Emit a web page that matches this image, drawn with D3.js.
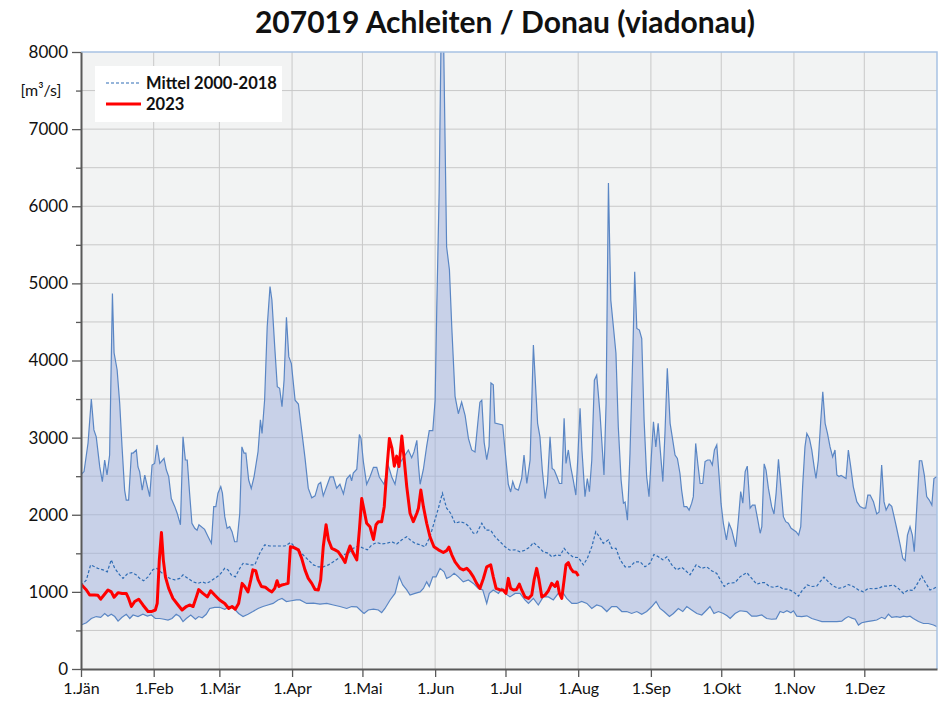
<!DOCTYPE html>
<html>
<head>
<meta charset="utf-8">
<script src="https://cdn.jsdelivr.net/npm/d3@7"></script>
<style>
	body { margin: 0; background: #fff; }
	text { font-family: Lato, "Open Sans", sans-serif; }
</style>
</head>
<body>
<div id="chart"></div>
<script>

// day of year (0 = 1.Jän), discharge in m3/s

const monthDays = [ 0, 31, 59, 90, 120, 151, 181, 212, 243, 273, 304, 334 ];
const monthLabels = [ "1.Jän", "1.Feb", "1.Mär", "1.Apr", "1.Mai", "1.Jun",
	"1.Jul", "1.Aug", "1.Sep", "1.Okt", "1.Nov", "1.Dez" ];

const yMajorTicks = [ 0, 1000, 2000, 3000, 4000, 5000, 6000, 7000, 8000 ];

const seriesNames = [ "Mittel 2000-2018", "2023" ];

// upper envelope (max)
const maxQ = [
	[0,2520],[1.3,2560],[3,2930],[4.4,3500],[5.5,3100],[6.5,3010],[8,2620],[9.1,2430],[10.1,2710],[11.1,2515],
	[12.2,2775],[13.4,4870],[14.1,4100],[15.4,3880],[16.5,3445],[17.5,2880],[18.6,2320],[19.3,2190],[20.3,2190],[21.5,2800],
	[22.2,2800],[23.6,2840],[24.3,2620],[25,2560],[26.1,2320],[27.2,2515],[28.3,2365],[29.3,2235],[30.3,2645],[31.4,2665],
	[32.4,2905],[33.6,2665],[35.4,2730],[36.4,2580],[37.4,2495],[38.5,2210],[40,2105],[41,2020],[42.4,1870],[43.5,3010],
	[44.5,2710],[45.3,2710],[46.3,2280],[47.3,1890],[48.5,1825],[49.5,1800],[50.3,1870],[52.7,1810],[54.2,1715],[55.6,1630],
	[56.6,2105],[57.5,2105],[58.4,2280],[59.6,2365],[60.3,2280],[61.3,1975],[62.3,1825],[63.4,1845],[64.4,1780],[65.5,1650],
	[66.5,1650],[67.7,2020],[68.6,2880],[69.5,2800],[70.3,2800],[71.5,2450],[72.6,2340],[73.8,2495],[75.5,2820],[76.5,3230],
	[77.2,3055],[78.3,3490],[79.4,4440],[80.6,4960],[81.4,4785],[82.6,4180],[83.7,3660],[84.7,3640],[85.7,3400],[86.6,3750],
	[87.6,4560],[88.6,4050],[89.7,3960],[91.3,3485],[92.7,3435],[94.1,3090],[95.5,2740],[96.9,2345],[98.4,2220],[99.8,2245],
	[101.2,2395],[102.2,2420],[103.3,2245],[106.2,2490],[107.6,2490],[109,2345],[110.4,2395],[111.9,2270],[113.3,2465],[114.7,2515],
	[115.4,2440],[116.1,2540],[117.6,2590],[118.7,3040],[119.4,2990],[120.4,2690],[121.8,2395],[123.2,2490],[124.7,2615],[126.1,2615],
	[127.2,2490],[129.2,2395],[131,2640],[132.5,2490],[133.9,2395],[135.3,2640],[137.5,2740],[139.6,2840],[141,2740],[142,2815],
	[143.2,2965],[143.9,2640],[144.6,2395],[146,2590],[147.4,2890],[148.5,3090],[150,3090],[151,3485],[151.7,4680],[152.7,6170],
	[153.7,8600],[154.4,8600],[155.9,5475],[157.1,5175],[158.1,4430],[159.5,3535],[160.9,3310],[162.3,3460],[163.8,3285],[165.2,2990],
	[166.6,2840],[168,2815],[169.2,3190],[170.1,3460],[170.9,3485],[171.9,2940],[173,2715],[174,2890],[174.8,3710],[175.8,3685],
	[176.5,3190],[179.8,3165],[180.8,2840],[182.2,2395],[183.2,2295],[184.1,2430],[185.1,2340],[186.5,2320],[187.9,2470],[188.9,2775],
	[190.1,2405],[191.5,2710],[192.9,4200],[194,3575],[194.7,3185],[195.7,3010],[196.7,2580],[197.9,2210],[198.9,2405],[200,3010],
	[200.9,2600],[201.8,2580],[202.9,2495],[204,2405],[205,2405],[206,3250],[206.8,2665],[207.8,2840],[208.8,2625],[209.9,2450],
	[211,2255],[211.8,2710],[212.8,3380],[213.6,2840],[214.9,2235],[215.9,2470],[216.8,2300],[217.8,2710],[218.9,3745],[219.9,3810],
	[221.3,3315],[223,2515],[223.9,3445],[224.9,6300],[225.9,4785],[227,4440],[228.1,4095],[229.1,3140],[230.3,2450],[231.3,2150],
	[232,2165],[233,1930],[234.1,2800],[235.3,4095],[236.1,5150],[237,4415],[238.1,4395],[239.1,4285],[240.1,3230],[241.2,2495],
	[242.2,2235],[243.1,2710],[244.1,3205],[245.1,2880],[246.1,3185],[247,2840],[248.1,2430],[249,3055],[250,3900],[251.2,3185],
	[252.3,2970],[253.3,2775],[254.3,2730],[255.4,2535],[256.1,2320],[257.1,2105],[258.3,2105],[259.3,2060],[260.4,2150],[261.1,2235],
	[262.1,2925],[263,2665],[264,2405],[265.1,2405],[266.1,2690],[267.2,2710],[268.2,2710],[269.2,2645],[270.1,2840],[271.1,2905],
	[272.1,2495],[272.9,2150],[273.9,1890],[275.2,1675],[276.3,1890],[277.5,1800],[279.2,1585],[280.3,1930],[281.3,2300],[282.2,2150],
	[283.2,2560],[284.1,2630],[285.3,2085],[286.3,2125],[287.4,2125],[288.6,1930],[289.6,1760],[290.3,1845],[291.3,2660],[292.1,2580],
	[293.1,2345],[294.5,2105],[295.5,2010],[296.4,2280],[297.4,2720],[298.4,2365],[299.5,1975],[300.5,1910],[301.6,1890],[302.8,1825],
	[304.9,1780],[306,1735],[306.9,1845],[307.7,2365],[308.7,2880],[309.5,3055],[310.6,2990],[311.6,2840],[312.6,2625],[313.4,2470],
	[314.4,2710],[315.4,3205],[316.3,3595],[317.3,3185],[318.3,3055],[319.4,2880],[320.5,2750],[321.5,2840],[322.3,2515],[323.2,2495],
	[324.1,2510],[326.2,2470],[327.2,2840],[328.2,2625],[329.3,2365],[330.8,2170],[332.2,2105],[333.6,2085],[334.6,2085],[335.5,2255],
	[336.5,2255],[337.9,2170],[339.3,2010],[340.3,2035],[341.4,2645],[342.4,2170],[343.3,2060],[344.6,2140],[345.7,2110],[346.7,1975],
	[347.8,1825],[349.3,1610],[350.4,1435],[351.4,1405],[352.4,1735],[353.5,1845],[354.5,1735],[355.3,1520],[356.4,2105],[357.5,2700],
	[358.5,2700],[359.6,2515],[360.6,2235],[361.7,2190],[362.8,2125],[363.7,2470],[365,2495]
];

// lower envelope (min)
const minQ = [
	[0,570],[2.3,600],[4.4,655],[6.5,680],[8.4,670],[10.1,720],[11.5,685],[12.9,710],[14.4,680],[15.8,620],
	[17.5,670],[19.3,710],[20.8,655],[22.2,700],[24.3,680],[26.4,710],[28.3,685],[30,700],[31.7,655],[33.6,655],
	[35.4,645],[37.1,635],[38.8,655],[40.6,710],[42.1,680],[43.5,615],[44.9,655],[46.8,700],[48.8,645],[50.2,680],
	[51.7,665],[53.4,710],[54.9,785],[57,800],[59.1,800],[61.3,775],[63.4,810],[65.5,775],[67.2,720],[69.1,680],
	[71.2,710],[73.3,745],[75.5,785],[77.6,810],[79.7,830],[81.9,850],[84,895],[85.7,915],[87.6,875],[89.7,885],
	[91.8,895],[93.4,895],[96.2,850],[99.1,855],[101.9,840],[104.8,850],[107.6,830],[110.4,810],[113.3,785],[115.4,810],
	[117.6,805],[119.7,745],[120.7,720],[122.5,765],[124.7,775],[126.8,765],[128.2,730],[129.6,785],[131.8,895],[133.9,980],
	[135.7,1195],[137.2,1090],[138.9,1025],[140.3,960],[142.4,980],[144.6,1000],[146,1045],[147.4,1130],[148.5,1070],[150,1195],
	[151.4,1195],[153.1,1305],[154.8,1260],[155.9,1175],[157.4,1195],[159.1,1240],[160.9,1195],[163,1130],[165.2,1155],[167.3,1110],
	[169.4,1045],[171.3,1025],[173,850],[174.1,980],[175.8,1025],[178,980],[179.4,1045],[180.8,980],[182.9,935],[185.1,980],
	[187.2,980],[189.3,895],[190.8,850],[192.9,915],[195,830],[197.1,935],[199.3,935],[201.4,895],[203.5,980],[205.7,980],
	[207.1,915],[209.3,850],[211.4,850],[213.5,875],[215.7,850],[217.8,785],[219.9,830],[222,810],[224.2,745],[226.3,810],
	[228.4,810],[230.6,745],[232.7,745],[234.8,720],[237,745],[239.1,710],[241.2,745],[243.4,810],[245.2,875],[246.9,785],
	[248.6,745],[250.9,680],[252.6,720],[254.7,785],[256.6,745],[258.3,810],[260.4,765],[262.6,720],[264.7,700],[266.8,765],
	[268.2,810],[269.9,720],[271.8,745],[273.9,720],[275.5,690],[276.8,655],[278.9,720],[281,755],[283.9,745],[286,685],
	[288.1,685],[290.3,700],[292.4,655],[294.5,645],[296.4,650],[298.1,745],[299.5,730],[301,755],[302.7,730],[303.8,755],
	[305.2,685],[307.3,680],[309.5,690],[311.6,655],[313.7,635],[315.9,615],[318,615],[320.1,615],[322.3,615],[324.4,620],
	[325.8,655],[327.2,680],[328.7,660],[330.1,645],[331.5,570],[332.9,600],[335.1,615],[337.2,625],[339.3,635],[341.4,670],
	[342.8,650],[344.3,710],[345.7,670],[347.8,680],[349.3,670],[350.7,685],[352.2,675],[353.5,685],[354.9,655],[357.1,615],
	[359.2,590],[361.3,590],[363.5,570],[365,550]
];

// Mittel 2000-2018
const meanQ = [
	[0,1080],[2.3,1155],[4.1,1350],[7.2,1305],[9.4,1285],[11.2,1260],[12.9,1415],[14.4,1305],[16.5,1220],[17.9,1175],
	[20,1240],[21.7,1250],[23.6,1220],[25,1175],[26.7,1145],[28.6,1195],[30.7,1290],[32.4,1305],[34.3,1250],[36,1220],
	[37.8,1175],[40,1155],[42.1,1175],[43.5,1220],[45.6,1175],[47.8,1130],[49.9,1110],[51.7,1130],[53.4,1110],[54.9,1130],
	[57,1175],[59.1,1220],[61.3,1305],[62.7,1285],[64.1,1220],[65.8,1195],[67.7,1305],[69.1,1370],[72.4,1350],[74.1,1350],
	[76.2,1500],[78.3,1610],[80.5,1595],[82.6,1595],[84.7,1595],[86.9,1595],[89.4,1640],[91.1,1585],[93.4,1520],[96.2,1435],
	[99.1,1350],[101.2,1325],[103.3,1325],[105.5,1350],[107.6,1390],[109.7,1435],[111.9,1480],[114,1500],[116.1,1565],[118.3,1595],
	[120.4,1565],[122.1,1545],[124,1610],[126.1,1640],[128.2,1620],[130.4,1630],[132.5,1650],[134.6,1620],[136.8,1675],[138.9,1715],
	[140.3,1675],[142.4,1630],[144.6,1610],[146.7,1585],[148.8,1715],[150.5,1890],[152.4,2085],[154.1,2280],[155.9,2085],[157.6,2020],
	[159.5,1890],[161.6,1910],[163.8,1890],[165.5,1845],[167.3,1760],[168.7,1760],[170.9,1890],[172.7,1800],[174.7,1800],[176.5,1715],
	[178.7,1650],[180.8,1585],[182.9,1540],[185.1,1545],[187.2,1520],[189.3,1540],[191.5,1585],[192.9,1640],[195,1585],[197.1,1520],
	[199.3,1500],[200.7,1455],[202.9,1480],[204.3,1470],[206,1565],[207.8,1500],[209.9,1450],[212.1,1445],[214.2,1350],[215.9,1435],
	[217.8,1585],[219.5,1780],[221,1715],[222.7,1630],[224.9,1675],[226.3,1565],[228.1,1565],[229.9,1415],[232,1325],[234.1,1325],
	[236.2,1390],[238.4,1390],[240.5,1325],[242.6,1370],[244.3,1485],[246.2,1455],[248.1,1415],[249.8,1455],[251.9,1350],[254,1285],
	[256.1,1320],[257.5,1285],[259.7,1220],[262.3,1350],[264.7,1305],[266.8,1325],[268.9,1275],[271.1,1240],[272.8,1145],[274.3,1070],
	[276,1110],[278.9,1120],[281,1195],[283.9,1250],[286,1175],[288.1,1100],[290.3,1120],[291.7,1120],[293.5,1070],[295.2,1060],
	[297.4,1075],[299.5,1035],[301.6,1035],[303.8,1000],[305.9,945],[307.7,1025],[309.7,1090],[311.6,1070],[313.7,1075],[315.1,1130],
	[316.8,1190],[318.7,1130],[320.8,1075],[322.9,1045],[325.1,1060],[327.2,1095],[329.3,1070],[331.5,1025],[333.6,1000],[335.7,1045],
	[337.8,1040],[340,1045],[342.1,1075],[344.3,1075],[346.4,1090],[348.5,1045],[350.7,980],[352.8,1025],[354.9,1020],[357.1,1130],
	[358.5,1205],[359.9,1130],[362,1025],[363.5,1040],[365,1070]
];

// 2023
const q2023 = [
	[0,1100],[2.3,1025],[3.7,960],[5.8,960],[7.2,955],[8.4,905],[9.8,960],[11.5,1025],[12.9,1000],[14.1,930],
	[15.8,990],[17.5,980],[19.3,980],[20.3,915],[21.5,810],[22.9,875],[24.6,905],[26.4,830],[28.6,745],[30,745],
	[31.7,765],[32.5,850],[33.4,1415],[34.3,1770],[35.1,1415],[36,1195],[37.4,1045],[39.2,915],[41.4,830],[43.1,765],
	[44.9,810],[46.3,830],[47.8,810],[49.2,935],[50.2,1030],[52,980],[53.9,935],[55.3,1015],[57,960],[59.1,895],
	[61.3,850],[63,785],[64.4,810],[65.8,775],[67.2,850],[68.7,1110],[69.8,1070],[71.2,1000],[72.4,1155],[73.3,1285],
	[74.5,1275],[75.5,1160],[76.9,1070],[78.6,1060],[80,1025],[81.4,1000],[82.6,1045],[83.6,1145],[84.4,1070],[85.7,1090],
	[87.1,1100],[88.3,1110],[89.3,1585],[90.4,1580],[92.7,1545],[94.1,1435],[95.5,1285],[96.9,1175],[98.4,1110],[99.8,1030],
	[101.2,1025],[102.2,1155],[103.3,1585],[104.5,1870],[105.5,1675],[106.9,1565],[108.3,1545],[109.7,1520],[111.2,1455],[112.6,1380],
	[113.6,1500],[114.7,1595],[116.1,1500],[117.6,1415],[118.7,1800],[119.7,2210],[120.7,2060],[121.8,1890],[123.2,1845],[124.7,1680],
	[125.8,1870],[126.8,1910],[128.2,1910],[129.3,2105],[130.4,2580],[131.5,2990],[132.6,2860],[133.6,2630],[134.6,2760],[135.6,2625],
	[136.8,3020],[137.7,2750],[138.9,2365],[140.3,2020],[141.7,1910],[143.2,2020],[143.9,2085],[144.9,2320],[146,2105],[147.4,1890],
	[148.8,1715],[150.5,1585],[152.4,1545],[154.5,1510],[155.9,1535],[156.9,1580],[158.1,1480],[159.5,1390],[161.6,1305],[163,1285],
	[164.5,1305],[165.9,1260],[167.3,1195],[168.7,1110],[170.1,1045],[171.6,1175],[173,1325],[174.7,1350],[175.8,1195],[177,1045],
	[178.7,1025],[180,1025],[181.2,980],[182.2,1175],[183.2,1045],[184.4,1025],[185.7,1030],[186.9,1100],[187.9,1025],[189.3,935],
	[190.8,915],[192.2,960],[193.2,1155],[194.3,1305],[195.3,1155],[196.5,935],[197.9,960],[199.3,1015],[200.7,1110],[202.1,1070],
	[203.1,1130],[204,980],[205,915],[206,1155],[206.8,1350],[207.8,1380],[208.8,1305],[209.9,1260],[211.1,1255],[212.1,1205]
];

///////////////////////////////////////////////////////////////////////

const width = 944, height = 707;
const margin = { left: 81, right: 7, top: 52, bottom: 38 };

const svg = d3.select( "#chart" )
	.append( "svg" )
	.attr( "width", width )
	.attr( "height", height );

const x = d3.scaleLinear()
	.domain( [ 0, 365 ] )
	.range( [ margin.left, width - margin.right ] );

const y = d3.scaleLinear()
	.domain( [ 0, 8000 ] )
	.range( [ height - margin.bottom, margin.top ] );

const x0 = x.range()[ 0 ], x1 = x.range()[ 1 ];
const y0 = y.range()[ 0 ], y1 = y.range()[ 1 ];

svg.append( "defs" ).append( "clipPath" )
	.attr( "id", "plotclip" )
	.append( "rect" )
		.attr( "x", x0 ).attr( "y", y1 )
		.attr( "width", x1 - x0 ).attr( "height", y0 - y1 );

// plot background
svg.append( "rect" )
	.attr( "x", x0 ).attr( "y", y1 )
	.attr( "width", x1 - x0 ).attr( "height", y0 - y1 )
	.attr( "fill", "#f2f3f3" );

// grid
const grid = svg.append( "g" ).attr( "stroke", "#c8c8c8" ).attr( "stroke-width", 1 );
grid.selectAll( "line.h" )
	.data( d3.range( 500, 8000, 500 ) )
	.join( "line" )
		.attr( "class", "h" )
		.attr( "x1", x0 ).attr( "x2", x1 )
		.attr( "y1", d => y( d ) ).attr( "y2", d => y( d ) );
grid.selectAll( "line.v" )
	.data( monthDays.slice( 1 ) )
	.join( "line" )
		.attr( "class", "v" )
		.attr( "x1", d => x( d ) ).attr( "x2", d => x( d ) )
		.attr( "y1", y1 ).attr( "y2", y0 );

const line = d3.line()
	.x( d => x( d[ 0 ] ) )
	.y( d => y( d[ 1 ] ) );

const plot = svg.append( "g" ).attr( "clip-path", "url(#plotclip)" );

// band between min and max
plot.append( "path" )
	.attr( "d", line( maxQ.concat( minQ.slice().reverse() ) ) + "Z" )
	.attr( "fill", "#9db0dd" )
	.attr( "fill-opacity", 0.5 );

plot.append( "path" )
	.attr( "d", line( maxQ ) )
	.attr( "fill", "none" )
	.attr( "stroke", "#5a86c4" )
	.attr( "stroke-width", 1.2 );

plot.append( "path" )
	.attr( "d", line( minQ ) )
	.attr( "fill", "none" )
	.attr( "stroke", "#5a86c4" )
	.attr( "stroke-width", 1.2 );

plot.append( "path" )
	.attr( "d", line( meanQ ) )
	.attr( "fill", "none" )
	.attr( "stroke", "#2f6db5" )
	.attr( "stroke-width", 1.2 )
	.attr( "stroke-dasharray", "3,2" );

plot.append( "path" )
	.attr( "d", line( q2023 ) )
	.attr( "fill", "none" )
	.attr( "stroke", "#ff0000" )
	.attr( "stroke-width", 3 )
	.attr( "stroke-linejoin", "round" );

// frame top / right
svg.append( "path" )
	.attr( "d", `M${x0},${y1}H${x1}V${y0}` )
	.attr( "fill", "none" )
	.attr( "stroke", "#a8c2e4" )
	.attr( "stroke-width", 1.5 );

// y axis
svg.append( "g" )
	.attr( "transform", `translate(${x0},0)` )
	.call( d3.axisLeft( y ).tickValues( d3.range( 500, 8000, 1000 ) ).tickSize( 5 ).tickFormat( "" ) )
	.call( g => g.select( ".domain" ).remove() )
	.call( g => g.selectAll( "line" ).attr( "stroke", "#595959" ).attr( "stroke-width", 1.3 ) );

svg.append( "g" )
	.attr( "transform", `translate(${x0},0)` )
	.call( d3.axisLeft( y ).tickValues( yMajorTicks ).tickSize( 9 ).tickPadding( 4 ).tickSizeOuter( 0 )
		.tickFormat( d3.format( "d" ) ) )
	.call( g => g.select( ".domain" ).attr( "stroke", "#595959" ).attr( "stroke-width", 2 ) )
	.call( g => g.selectAll( "line" ).attr( "stroke", "#595959" ).attr( "stroke-width", 1.3 ) )
	.call( g => g.selectAll( "text" )
		.attr( "font-size", 17 ).attr( "fill", "#111" )
		.attr( "font-family", "Lato, sans-serif" ) );

// x axis
svg.append( "g" )
	.attr( "transform", `translate(0,${y0})` )
	.call( d3.axisBottom( x ).tickValues( monthDays ).tickSize( 8 ).tickPadding( 6 ).tickSizeOuter( 0 )
		.tickFormat( ( d, i ) => monthLabels[ i ] ) )
	.call( g => g.select( ".domain" ).attr( "stroke", "#595959" ).attr( "stroke-width", 2 ) )
	.call( g => g.selectAll( "line" ).attr( "stroke", "#595959" ).attr( "stroke-width", 1.3 ) )
	.call( g => g.selectAll( "text" )
		.attr( "font-size", 16 ).attr( "fill", "#111" )
		.attr( "font-family", "Lato, sans-serif" ) );

// unit label
svg.append( "text" )
	.attr( "x", 41 ).attr( "y", 96 )
	.attr( "text-anchor", "middle" )
	.attr( "font-size", 16 ).attr( "fill", "#111" )
	.text( "[m³/s]" );

// title
svg.append( "text" )
	.attr( "x", 505 ).attr( "y", 33 )
	.attr( "text-anchor", "middle" )
	.attr( "font-size", 30 ).attr( "font-weight", "bold" ).attr( "fill", "#111" )
	.text( "207019 Achleiten / Donau (viadonau)" );

// legend
const legend = svg.append( "g" );
legend.append( "rect" )
	.attr( "x", 95 ).attr( "y", 66 )
	.attr( "width", 187 ).attr( "height", 56 )
	.attr( "fill", "#fff" );

const legendStyles = [
	{ stroke: "#2f6db5", width: 1.2, dash: "3,2" },
	{ stroke: "#ff0000", width: 3, dash: null }
];

legend.selectAll( "g.item" )
	.data( seriesNames )
	.join( "g" )
		.attr( "class", "item" )
		.attr( "transform", ( d, i ) => `translate(106,${ 83 + i * 21 })` )
		.each( function( d, i ) {
			const g = d3.select( this );
			g.append( "line" )
				.attr( "x1", 0 ).attr( "x2", 35 )
				.attr( "stroke", legendStyles[ i ].stroke )
				.attr( "stroke-width", legendStyles[ i ].width )
				.attr( "stroke-dasharray", legendStyles[ i ].dash );
			g.append( "text" )
				.attr( "x", 40 ).attr( "y", 5.5 )
				.attr( "font-size", 16.5 ).attr( "font-weight", "bold" ).attr( "fill", "#111" )
				.text( d );
		} );

</script>
</body>
</html>
